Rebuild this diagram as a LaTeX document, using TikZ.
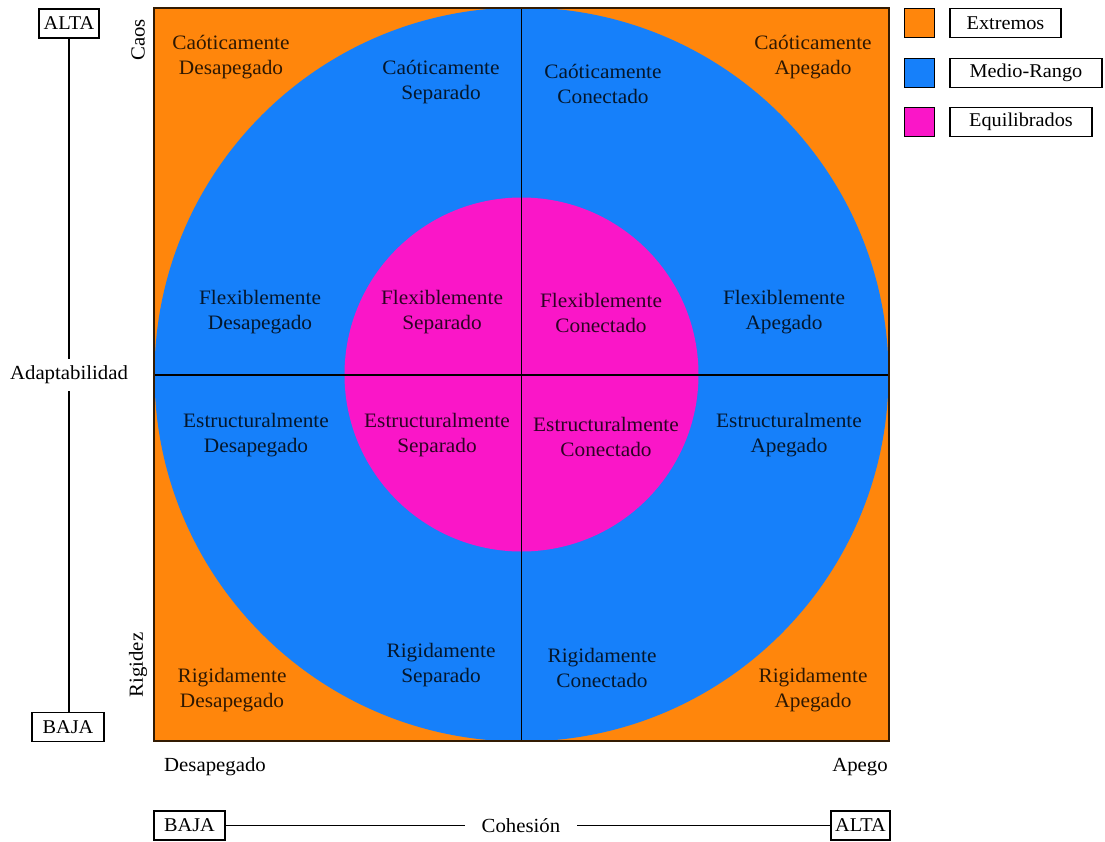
\documentclass[tikz,border=0pt]{standalone}
\usepackage{fontspec}
\setmainfont{Liberation Serif}[FakeStretch=1.04]
\definecolor{extremo}{RGB}{255,134,12}
\definecolor{medio}{RGB}{22,128,250}
\definecolor{equil}{RGB}{250,22,200}
\begin{document}
\begin{tikzpicture}[x=1pt,y=-1pt,
  lbl/.style={align=center, font=\fontsize{20.5}{25}\selectfont, text opacity=0.82},
  plain/.style={font=\fontsize{20}{24}\selectfont, inner sep=0pt},
  tagbox/.style={draw, line width=1.2pt, font=\fontsize{19.5}{22}\selectfont, inner sep=0pt, minimum height=29pt},
  swatch/.style={draw, line width=1.2pt, minimum width=30pt, minimum height=29pt, inner sep=0pt},
  axline/.style={line width=1.3pt},
  gridline/.style={line width=1.6pt, black}]
\useasboundingbox (0,0) rectangle (1105,841);

% quadrant field with the three bands
\fill[extremo] (154,8) rectangle (889,741);
\fill[medio] (521.5,374.5) circle (367);
\fill[equil] (521.5,374.5) circle (177);
\draw[gridline] (521.5,8) -- (521.5,741);
\draw[gridline] (154,375) -- (889,375);
\draw[line width=1.6pt, black!80!extremo] (154,8) rectangle (889,741);

% region labels
\node[lbl] (cd) at (231,57) {Caóticamente\\Desapegado};
\node[lbl] (cs) at (441,82) {Caóticamente\\Separado};
\node[lbl] (cc) at (603,84) {Caóticamente\\Conectado};
\node[lbl] (ca) at (813,57) {Caóticamente\\Apegado};
\node[lbl] (fd) at (260,312) {Flexiblemente\\Desapegado};
\node[lbl] (fs) at (442,312) {Flexiblemente\\Separado};
\node[lbl] (fc) at (601,313) {Flexiblemente\\Conectado};
\node[lbl] (fa) at (784,312) {Flexiblemente\\Apegado};
\node[lbl] (ed) at (256,435) {Estructuralmente\\Desapegado};
\node[lbl] (es) at (437,435) {Estructuralmente\\Separado};
\node[lbl] (ec) at (606,437) {Estructuralmente\\Conectado};
\node[lbl] (ea) at (789,435) {Estructuralmente\\Apegado};
\node[lbl] (rs) at (441,665) {Rigidamente\\Separado};
\node[lbl] (rc) at (602,668) {Rigidamente\\Conectado};
\node[lbl] (rd) at (232,690) {Rigidamente\\Desapegado};
\node[lbl] (ra) at (813,690) {Rigidamente\\Apegado};

% vertical axis: adaptability
\node[tagbox, minimum width=60pt] (altaV) at (69,23.5) {ALTA};
\node[tagbox, minimum width=72pt] (bajaV) at (68,727) {BAJA};
\node[plain, fill=white, inner ysep=7pt, inner xsep=2pt] (adapt) at (69,375) {Adaptabilidad};
\draw[axline] (altaV.south) -- (adapt.north);
\draw[axline] (adapt.south) -- (adapt.south |- bajaV.north);
\node[plain, rotate=90] (caos) at (138,40) {Caos};
\node[plain, rotate=90] (rigidez) at (138,665) {Rigidez};

% horizontal axis: cohesion
\node[plain] (desap) at (215,767) {Desapegado};
\node[plain] (apego) at (860,767) {Apego};
\node[tagbox, minimum width=71pt] (bajaH) at (189.5,825.5) {BAJA};
\node[tagbox, minimum width=59pt] (altaH) at (860.5,825.5) {ALTA};
\node[plain, fill=white, inner xsep=17pt, inner ysep=2pt] (cohes) at (521,825.5) {Cohesión};
\draw[axline] (bajaH.east) -- (cohes.west);
\draw[axline] (cohes.east) -- (altaH.west);

% legend
\node[swatch, fill=extremo] (swE) at (919.5,23) {};
\node[swatch, fill=medio] (swM) at (919.5,73) {};
\node[swatch, fill=equil] (swQ) at (919.5,122) {};
\node[tagbox, minimum width=111pt] (legE) at (1005.5,23) {Extremos};
\node[tagbox, minimum width=152pt] (legM) at (1026,73) {Medio-Rango};
\node[tagbox, minimum width=142pt] (legQ) at (1021,122) {Equilibrados};
\end{tikzpicture}
\end{document}
